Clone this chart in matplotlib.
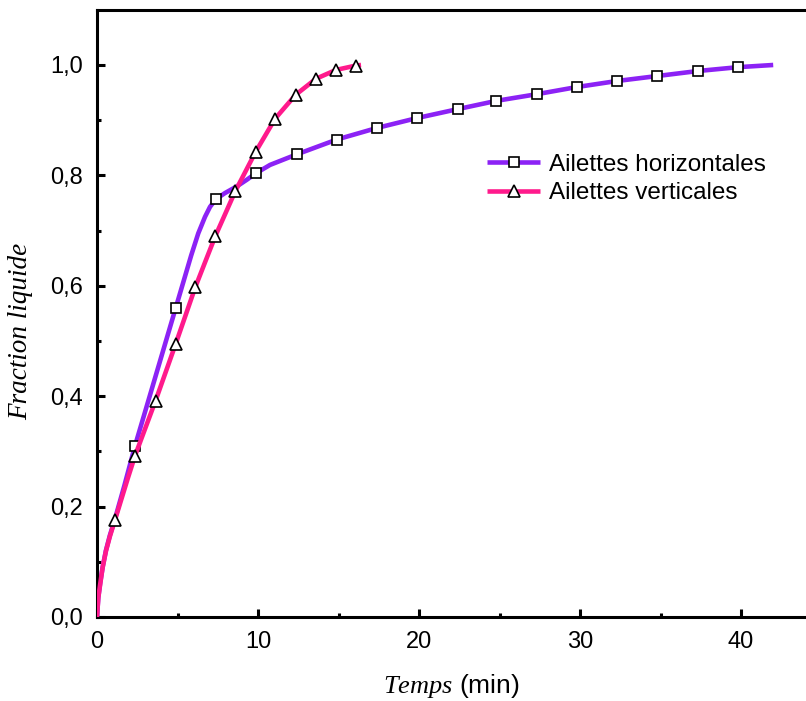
import matplotlib
matplotlib.use("Agg")
import matplotlib.pyplot as plt
from matplotlib.ticker import MultipleLocator, FuncFormatter

# ---------------- data ----------------
# Ailettes horizontales (line)
h_t = [0, 0.08, 0.2, 0.35, 0.55, 0.8, 1.12, 1.7, 2.36, 3.09, 4.01, 4.89, 5.85,
       6.29, 6.71, 7.02, 7.39, 7.95, 8.68, 9.3, 9.88, 10.75, 12.4, 14.9, 17.4,
       19.9, 22.4, 24.8, 27.3, 29.8, 32.3, 34.8, 37.3, 39.8, 42.0]
h_f = [0, 0.035, 0.062, 0.09, 0.12, 0.148, 0.178, 0.238, 0.31, 0.382, 0.473, 0.56,
       0.655, 0.695, 0.725, 0.743, 0.757, 0.768, 0.780, 0.792, 0.804, 0.819, 0.838,
       0.865, 0.886, 0.904, 0.920, 0.935, 0.947, 0.960, 0.971, 0.980, 0.989, 0.996, 1.0]
# Ailettes horizontales (square markers)
h_mark_t = [2.36, 4.89, 7.39, 9.88, 12.4, 14.9, 17.4, 19.9, 22.4, 24.8, 27.3,
            29.8, 32.3, 34.8, 37.3, 39.8]
h_mark_f = [0.31, 0.56, 0.757, 0.804, 0.838, 0.865, 0.886, 0.904, 0.920, 0.935,
            0.947, 0.960, 0.971, 0.980, 0.989, 0.996]

# Ailettes verticales (line)
v_t = [0, 0.08, 0.2, 0.35, 0.56, 0.8, 1.12, 1.9, 2.36, 3.64, 4.89, 6.1, 6.77,
       7.35, 8.6, 9.86, 11.07, 12.34, 13.6, 14.84, 16.09, 16.4]
v_f = [0, 0.035, 0.06, 0.09, 0.12, 0.146, 0.176, 0.25, 0.292, 0.392, 0.495,
       0.597, 0.647, 0.690, 0.772, 0.843, 0.903, 0.946, 0.975, 0.991, 0.999, 1.0]
# Ailettes verticales (triangle markers)
v_mark_t = [1.12, 2.36, 3.64, 4.89, 6.1, 7.35, 8.6, 9.86, 11.07, 12.34, 13.6,
            14.84, 16.09]
v_mark_f = [0.176, 0.292, 0.392, 0.495, 0.597, 0.690, 0.772, 0.843, 0.903, 0.946,
            0.975, 0.991, 0.999]

labels = ["Ailettes horizontales", "Ailettes verticales"]
x_label_it = "Temps"
x_label_unit = " (min)"
y_label = "Fraction liquide"

# ---------------- style ----------------
plt.rcParams["font.family"] = ["Liberation Sans", "DejaVu Sans"]
plt.rcParams["mathtext.fontset"] = "custom"
plt.rcParams["mathtext.it"] = "Liberation Serif:italic"
plt.rcParams["mathtext.rm"] = "Liberation Sans"

PURPLE = "#8c22f5"
PINK = "#ff1a8c"

fig = plt.figure(figsize=(8.06, 7.01), dpi=100)
ax = fig.add_axes([97 / 806, 1 - 617 / 701, 1 - 97 / 806, (617 - 10) / 701])

l1, = ax.plot(h_t, h_f, color=PURPLE, lw=3.3, solid_capstyle="butt", zorder=2)
m1, = ax.plot(h_mark_t, h_mark_f, ls="none", marker="s", ms=7.2, mfc="white",
              mec="black", mew=1.2, zorder=3)
l2, = ax.plot(v_t, v_f, color=PINK, lw=3.3, solid_capstyle="butt", zorder=4)
m2, = ax.plot(v_mark_t, v_mark_f, ls="none", marker="^", ms=9, mfc="white",
              mec="black", mew=1.2, zorder=5)

ax.set_xlim(0, 709 / 16.1)
ax.set_ylim(0, 1.0996)

ax.xaxis.set_major_locator(MultipleLocator(10))
ax.xaxis.set_minor_locator(MultipleLocator(5))
ax.yaxis.set_major_locator(MultipleLocator(0.2))
ax.yaxis.set_minor_locator(MultipleLocator(0.1))
ax.yaxis.set_major_formatter(FuncFormatter(lambda v, p: f"{v:.1f}".replace(".", ",")))
ax.xaxis.set_major_formatter(FuncFormatter(lambda v, p: f"{v:.0f}"))

for s in ["left", "bottom", "top"]:
    ax.spines[s].set_linewidth(2.2)
ax.spines["right"].set_visible(False)

ax.tick_params(which="major", direction="in", length=6, width=2.2,
               labelsize=17, pad=10)
ax.tick_params(which="minor", direction="in", length=3.2, width=2.2)
ax.tick_params(top=False, right=False, which="both")

ax.set_xlabel(r"$\mathit{" + x_label_it + "}$" + x_label_unit, fontsize=19,
              labelpad=14)
ax.set_ylabel(y_label, fontsize=19.5, family=["Liberation Serif"], style="italic")
ax.yaxis.set_label_coords(-0.09, (617 - 331) / 607)

leg = fig.legend([(l1, m1), (l2, m2)], labels, loc="center left",
                 bbox_to_anchor=(487 / 806, 1 - 179 / 701), frameon=False,
                 fontsize=17.5, handlelength=2.2, handletextpad=0.35,
                 labelspacing=0.25, borderpad=0, borderaxespad=0, numpoints=1)

fig.savefig("out.png", dpi=100)
